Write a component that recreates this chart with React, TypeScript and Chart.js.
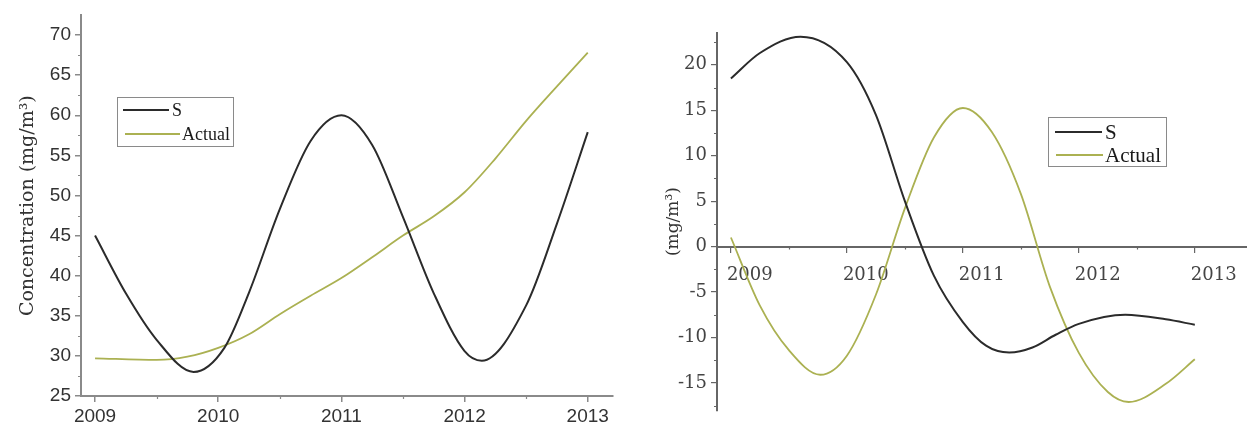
import React, { useEffect, useRef } from 'react';
import { Chart, registerables } from 'chart.js';

Chart.register(...registerables);

// Concentration panel: sample times and values
const concSYears = [2009, 2009.25, 2009.5, 2009.8, 2010.05, 2010.25, 2010.5, 2010.75, 2011, 2011.25, 2011.5, 2011.75, 2012, 2012.14, 2012.5, 2012.75, 2013];
const concS = [45.0, 37.8, 32.0, 28.0, 31.0, 37.9, 48.3, 56.8, 60.0, 56.3, 47.3, 37.8, 30.6, 29.4, 36.3, 46.5, 57.9];
const concActualYears = [2009, 2009.5, 2009.75, 2010, 2010.25, 2010.5, 2010.75, 2011, 2011.25, 2011.5, 2011.75, 2012, 2012.25, 2012.5, 2012.75, 2013];
const concActual = [29.7, 29.5, 29.9, 31.0, 32.7, 35.2, 37.5, 39.7, 42.3, 45.0, 47.4, 50.4, 54.6, 59.3, 63.6, 67.8];

// Deviation panel: sample times and values
const devSYears = [2009, 2009.25, 2009.6, 2010, 2010.25, 2010.5, 2010.75, 2011, 2011.2, 2011.4, 2011.6, 2011.8, 2012, 2012.4, 2012.75, 2013];
const devS = [18.5, 21.3, 23.1, 20.3, 14.5, 5.0, -3.2, -8.3, -10.9, -11.65, -11.1, -9.7, -8.5, -7.5, -8.0, -8.6];
const devActualYears = [2009, 2009.25, 2009.5, 2009.77, 2010, 2010.25, 2010.5, 2010.75, 2011, 2011.25, 2011.5, 2011.75, 2012, 2012.25, 2012.43, 2012.75, 2013];
const devActual = [1.0, -6.5, -11.4, -14.1, -12.0, -5.3, 4.2, 12.0, 15.25, 12.6, 5.8, -4.4, -11.7, -16.0, -17.1, -15.1, -12.4];

const seriesNames = ['S', 'Actual'];
const seriesColors = ['#2b2b2b', '#abb152'];

const yearTicks = [2009, 2010, 2011, 2012, 2013];
const concTicks = [25, 30, 35, 40, 45, 50, 55, 60, 65, 70];
const devTicks = [-15, -10, -5, 0, 5, 10, 15, 20];

const SANS = "'Liberation Sans', Arial, sans-serif";
const SERIF = "'DejaVu Serif', serif";
const LEGEND_SERIF = "'Liberation Serif', 'Times New Roman', serif";

const toPoints = (xs: number[], vals: number[]) => xs.map((x, i) => ({ x, y: vals[i] }));

const makeDatasets = (sx: number[], s: number[], ax: number[], a: number[]) => [
  {
    label: seriesNames[0],
    data: toPoints(sx, s),
    borderColor: seriesColors[0],
    borderWidth: 2,
    pointRadius: 0,
    cubicInterpolationMode: 'monotone',
    fill: false,
  },
  {
    label: seriesNames[1],
    data: toPoints(ax, a),
    borderColor: seriesColors[1],
    borderWidth: 1.8,
    pointRadius: 0,
    cubicInterpolationMode: 'monotone',
    fill: false,
  },
];

// Keep the horizontal axis flush with the canvas edges
const fixXHeight = (h: number) => (s: any) => {
  s.height = h;
  s.paddingLeft = 0;
  s.paddingRight = 0;
};

// Small unlabeled ticks between the major ones
const minorTicks = {
  id: 'minorTicks',
  afterDraw(chart: any, _args: any, opts: any) {
    const { ctx, chartArea } = chart;
    const xs = chart.scales.x;
    const ys = chart.scales.y;
    ctx.save();
    ctx.strokeStyle = opts.color;
    ctx.lineWidth = opts.width;
    ctx.beginPath();
    const xLine = opts.xAxisAt != null ? ys.getPixelForValue(opts.xAxisAt) : chartArea.bottom;
    const x0 = Math.ceil(xs.min / opts.xStep);
    const x1 = Math.floor(xs.max / opts.xStep);
    for (let k = x0; k <= x1; k++) {
      const v = k * opts.xStep;
      if (Math.abs(v - Math.round(v / opts.xMajor) * opts.xMajor) < 1e-6) continue;
      const px = Math.round(xs.getPixelForValue(v)) + 0.5;
      ctx.moveTo(px, xLine);
      ctx.lineTo(px, xLine + opts.len);
    }
    const y0 = Math.ceil(ys.min / opts.yStep);
    const y1 = Math.floor(ys.max / opts.yStep);
    for (let k = y0; k <= y1; k++) {
      const v = k * opts.yStep;
      if (Math.abs(v - Math.round(v / opts.yMajor) * opts.yMajor) < 1e-6) continue;
      const py = Math.round(ys.getPixelForValue(v)) + 0.5;
      ctx.moveTo(chartArea.left, py);
      ctx.lineTo(chartArea.left - opts.len, py);
    }
    ctx.stroke();
    ctx.restore();
  },
};

// Boxed legend placed inside the plot area
const boxLegend = {
  id: 'boxLegend',
  afterDraw(chart: any, _args: any, opts: any) {
    const { ctx, chartArea } = chart;
    const x = chartArea.left + opts.dx;
    const y = opts.top;
    ctx.save();
    ctx.strokeStyle = '#8a8a8a';
    ctx.lineWidth = 1;
    ctx.strokeRect(Math.round(x) + 0.5, Math.round(y) + 0.5, opts.w, opts.h);
    ctx.font = `${opts.fontSize}px ${LEGEND_SERIF}`;
    ctx.textBaseline = 'middle';
    ctx.fillStyle = '#1a1a1a';
    chart.data.datasets.forEach((ds: any, i: number) => {
      const row = opts.rows[i];
      const ry = y + opts.rowTop + i * opts.rowGap;
      ctx.strokeStyle = ds.borderColor;
      ctx.lineWidth = ds.borderWidth;
      ctx.beginPath();
      ctx.moveTo(x + row.from, ry);
      ctx.lineTo(x + row.to, ry);
      ctx.stroke();
      ctx.fillText(ds.label, x + row.text, ry + 1);
    });
    ctx.restore();
  },
};

function ConcentrationChart() {
  const ref = useRef<HTMLCanvasElement>(null);
  useEffect(() => {
    if (!ref.current) return;
    const axisColor = '#8a8a8a';
    const chart = new Chart(ref.current, {
      type: 'line',
      data: { datasets: makeDatasets(concSYears, concS, concActualYears, concActual) as any },
      plugins: [minorTicks, boxLegend],
      options: {
        animation: false,
        responsive: false,
        events: [],
        layout: { padding: { top: 10, right: 7, left: 0, bottom: 0 } },
        scales: {
          x: {
            type: 'linear',
            min: 2008.886,
            max: 2013.205,
            afterBuildTicks: (s: any) => { s.ticks = yearTicks.map((v) => ({ value: v })); },
            afterFit: fixXHeight(29),
            border: { display: true, color: axisColor, width: 2 },
            grid: { drawOnChartArea: false, drawTicks: true, tickLength: 6, color: axisColor, lineWidth: 1.5 },
            ticks: {
              padding: 3,
              autoSkip: false,
              maxRotation: 0,
              minRotation: 0,
              color: '#333',
              font: { family: SANS, size: 19 },
              callback: (v: any) => String(v),
            },
          },
          y: {
            type: 'linear',
            min: 25,
            max: 72.45,
            afterBuildTicks: (s: any) => { s.ticks = concTicks.map((v) => ({ value: v })); },
            afterFit: (s: any) => { s.width = 81; },
            border: { display: true, color: axisColor, width: 2 },
            grid: { drawOnChartArea: false, drawTicks: true, tickLength: 6, color: axisColor, lineWidth: 1.5 },
            ticks: {
              padding: 4,
              color: '#333',
              font: { family: SANS, size: 19 },
              callback: (v: any) => String(v),
            },
            title: {
              display: true,
              text: 'Concentration (mg/m³)',
              color: '#333',
              font: { family: SERIF, size: 19 },
              padding: { top: 17, bottom: 0 },
            },
          },
        },
        plugins: {
          legend: { display: false },
          tooltip: { enabled: false },
          minorTicks: { color: axisColor, width: 1.2, len: 3, xStep: 0.5, xMajor: 1, yStep: 2.5, yMajor: 5 },
          boxLegend: {
            dx: 36, top: 97, w: 116, h: 49, rowTop: 13, rowGap: 24, fontSize: 18,
            rows: [
              { from: 6, to: 52, text: 55 },
              { from: 8, to: 63, text: 65 },
            ],
          },
        } as any,
      },
    });
    return () => chart.destroy();
  }, []);
  return <canvas ref={ref} width={620} height={425} style={{ display: 'block' }} />;
}

function DeviationChart() {
  const ref = useRef<HTMLCanvasElement>(null);
  useEffect(() => {
    if (!ref.current) return;
    const axisColor = '#666';
    const chart = new Chart(ref.current, {
      type: 'line',
      data: { datasets: makeDatasets(devSYears, devS, devActualYears, devActual) as any },
      plugins: [minorTicks, boxLegend],
      options: {
        animation: false,
        responsive: false,
        events: [],
        layout: { padding: { top: 33, right: 0, left: 0, bottom: 0 } },
        scales: {
          x: {
            type: 'linear',
            position: { y: 0 } as any,
            min: 2008.88,
            max: 2013.45,
            afterBuildTicks: (s: any) => { s.ticks = yearTicks.map((v) => ({ value: v })); },
            afterFit: fixXHeight(4),
            border: { display: true, color: axisColor, width: 2 },
            grid: { drawOnChartArea: false, drawTicks: true, tickLength: 5, color: axisColor, lineWidth: 1.2 },
            ticks: {
              padding: 13,
              align: 'start',
              labelOffset: -4,
              autoSkip: false,
              maxRotation: 0,
              minRotation: 0,
              color: '#444',
              font: { family: SERIF, size: 18 },
              callback: (v: any) => String(v),
            },
          },
          y: {
            type: 'linear',
            min: -18,
            max: 23.5,
            afterBuildTicks: (s: any) => { s.ticks = devTicks.map((v) => ({ value: v })); },
            afterFit: (s: any) => { s.width = 97; },
            border: { display: true, color: axisColor, width: 2 },
            grid: { drawOnChartArea: false, drawTicks: true, tickLength: 6, color: axisColor, lineWidth: 1.2 },
            ticks: {
              padding: 4,
              color: '#444',
              font: { family: SERIF, size: 18 },
              callback: (v: any) => String(v),
            },
            title: {
              display: true,
              text: '(mg/m³)',
              color: '#333',
              font: { family: SERIF, size: 17 },
              padding: { top: 43, bottom: 0 },
            },
          },
        },
        plugins: {
          legend: { display: false },
          tooltip: { enabled: false },
          minorTicks: { color: axisColor, width: 1.2, len: 3, xStep: 0.5, xMajor: 1, yStep: 2.5, yMajor: 5, xAxisAt: 0 },
          boxLegend: {
            dx: 331, top: 117, w: 118, h: 49, rowTop: 15, rowGap: 23, fontSize: 21,
            rows: [
              { from: 7, to: 54, text: 57 },
              { from: 8, to: 55, text: 57 },
            ],
          },
        } as any,
      },
    });
    return () => chart.destroy();
  }, []);
  return <canvas ref={ref} width={627} height={425} style={{ display: 'block' }} />;
}

export default function App() {
  return (
    <div style={{ position: 'absolute', left: 0, top: 0, width: 1247, height: 425, background: '#fff', display: 'flex' }}>
      <ConcentrationChart />
      <DeviationChart />
    </div>
  );
}
